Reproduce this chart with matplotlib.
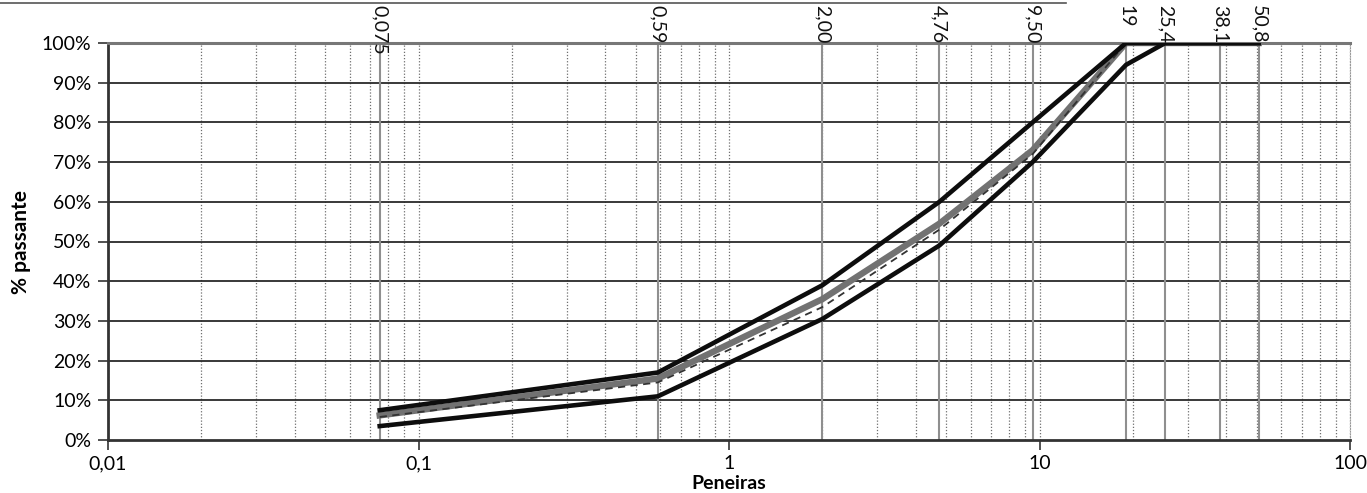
import matplotlib
matplotlib.use("Agg")
import matplotlib.pyplot as plt
from matplotlib.lines import Line2D
import matplotlib.transforms as mtransforms
import numpy as np

# ---- data ----
sieves = [0.075, 0.59, 2.00, 4.76, 9.50, 19, 25.4, 38.1, 50.8]
sieve_labels = ["0,075", "0,59", "2,00", "4,76", "9,50", "19", "25,4", "38,1", "50,8"]
upper_limit = [7.5, 17.0, 39.0, 60.0, 80.0, 100, 100, 100, 100]
lower_limit = [3.5, 11.0, 30.5, 49.0, 70.0, 94.5, 100, 100, 100]
project_curve = [6.2, 15.5, 35.5, 54.5, 73.0, 100, 100, 100, 100]
dashed_curve = [5.8, 14.5, 33.5, 53.0, 72.0, 100, 100, 100, 100]
x_ticks = [0.01, 0.1, 1, 10, 100]
x_tick_labels = ["0,01", "0,1", "1", "10", "100"]
y_ticks = [0, 10, 20, 30, 40, 50, 60, 70, 80, 90, 100]
y_tick_labels = [f"{v}%" for v in y_ticks]

plt.rcParams['font.family'] = ['Lato', 'DejaVu Sans']

fig = plt.figure(figsize=(13.67, 4.93), dpi=100)
ax = fig.add_axes([108/1367, 1-440/493, (1350-108)/1367, (440-43)/493])

ax.set_xscale('log')
ax.set_xlim(0.01, 100)
ax.set_ylim(0, 100)

# vertical minor dotted grid
minor = [m * 10.0**e for e in range(-2, 2) for m in range(1, 10)] + [100]
for v in minor:
    ax.axvline(v, color='#6f6f6f', lw=0.9, ls=(0, (1, 1.5)), zorder=1)
# horizontal major grid
for v in y_ticks[1:-1]:
    ax.axhline(v, color='#2a2a2a', lw=1.3, zorder=1)
# sieve lines
for s in sieves:
    ax.axvline(s, color='#8f8f8f', lw=1.5, zorder=1.5)

# curves
ax.plot(sieves, project_curve, color='#727272', lw=4.6, zorder=3, solid_joinstyle='round')
ax.plot(sieves, dashed_curve, color='#333333', lw=1.3, ls=(0, (4, 3)), zorder=3.5)
ax.plot(sieves, upper_limit, color='#0d0d0d', lw=3.3, zorder=4, solid_joinstyle='round')
ax.plot(sieves, lower_limit, color='#0d0d0d', lw=3.3, zorder=4, solid_joinstyle='round')

# ticks
ax.set_xticks(x_ticks)
ax.set_xticklabels(x_tick_labels, fontsize=14)
ax.xaxis.set_minor_locator(matplotlib.ticker.NullLocator())
ax.set_yticks(y_ticks)
ax.set_yticklabels(y_tick_labels, fontsize=14)
ax.tick_params(axis='both', direction='out', length=7, width=1.2, color='#333333')
ax.tick_params(axis='x', pad=4)
ax.tick_params(axis='y', pad=5)

for side in ['left', 'bottom']:
    ax.spines[side].set_color('#333333')
    ax.spines[side].set_linewidth(2.0)
ax.spines['top'].set_color('#777777')
ax.spines['top'].set_linewidth(2.2)
ax.spines['right'].set_color('#999999')
ax.spines['right'].set_linewidth(0.8)
ax.spines['right'].set_linestyle((0, (1, 1.5)))

ax.set_ylabel("% passante", fontsize=15, fontweight='bold', labelpad=8)
ax.set_xlabel("Peneiras", fontsize=14, fontweight='bold', labelpad=2)

# sieve labels at the top
trans = mtransforms.blended_transform_factory(ax.transData, fig.transFigure)
for s, lab in zip(sieves, sieve_labels):
    ax.text(s, 1 - 5/493, lab, transform=trans, rotation=270, ha='center', va='top',
            fontsize=14, color='#111111', clip_on=False)

# border line at the very top
fig.add_artist(Line2D([0, 0.78], [1 - 3/493, 1 - 3/493], transform=fig.transFigure,
                      color='#555555', lw=1.2))

fig.savefig("out.png", dpi=100)
